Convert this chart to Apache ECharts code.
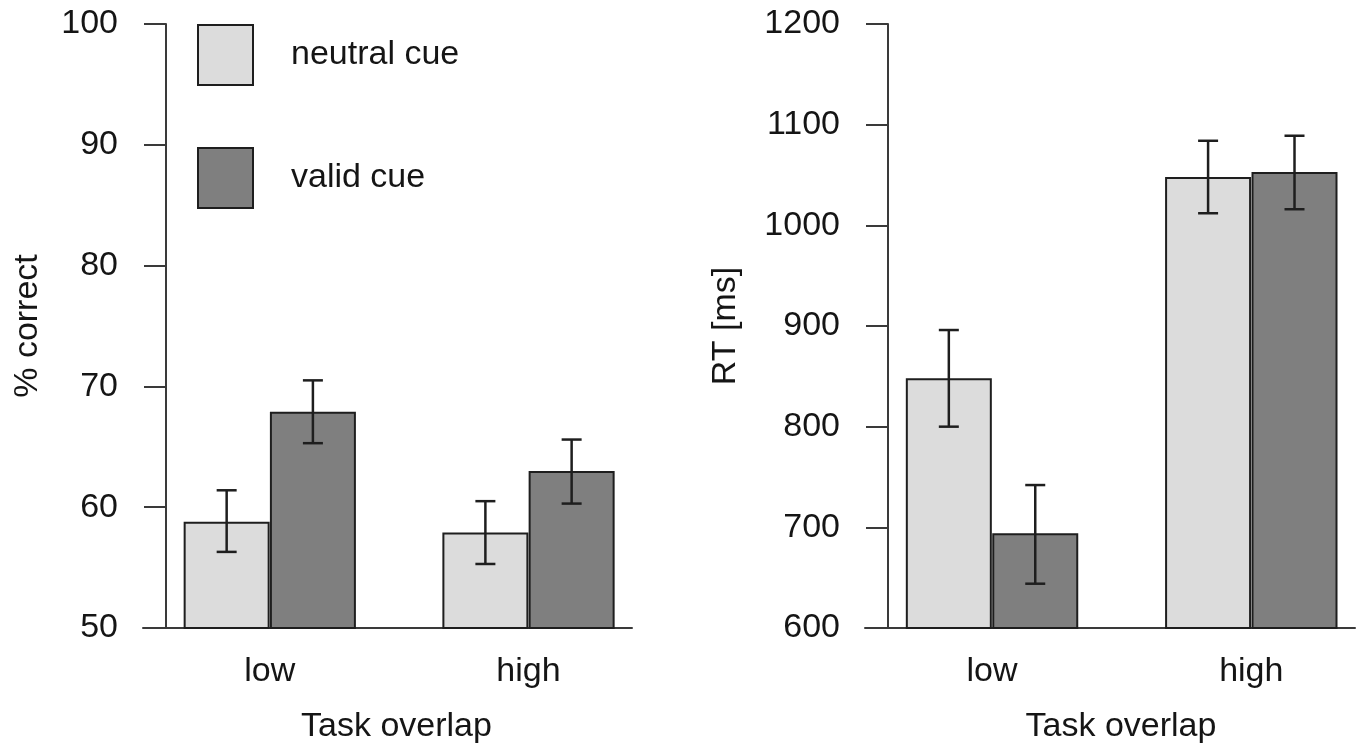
<!DOCTYPE html>
<html>
<head>
<meta charset="utf-8">
<script src="https://cdn.jsdelivr.net/npm/echarts@6/dist/echarts.min.js"></script>
<style>
html,body{margin:0;padding:0;background:#fff;}
#c{width:1361px;height:751px;}
</style>
</head>
<body>
<div id="c"></div>
<script>
// ---- data ----
const categories = ['low', 'high'];
const seriesNames = ['neutral cue', 'valid cue'];
// % correct
const neutralPct = [58.8, 57.9];
const validPct = [67.9, 63.0];
const neutralPctLo = [56.3, 55.3];
const neutralPctHi = [61.4, 60.5];
const validPctLo = [65.3, 60.3];
const validPctHi = [70.5, 65.6];
// RT [ms]
const neutralRT = [848, 1048];
const validRT = [694, 1053];
const neutralRTLo = [800, 1012];
const neutralRTHi = [896, 1084];
const validRTLo = [644, 1016];
const validRTHi = [742, 1089];

// ---- layout helpers ----
const FONT = 'Liberation Sans';
const FS = 34;
const TXT = '#151515';
const colors = ['#dcdcdc', '#7f7f7f'];
const dark = '#1e1e1e';
// bar positions in barplot units: groups centred at 2 and 5, bars at ±0.5
function pos(i, k) { return 2 + 3 * i + (k === 0 ? -0.5 : 0.5); }

function barData(vals, k) { return vals.map((v, i) => [pos(i, k), v]); }
function errData(lo, hi, k) { return lo.map((l, i) => [pos(i, k), l, hi[i]]); }

function errRender(params, api) {
  const x = api.value(0);
  const p1 = api.coord([x, api.value(1)]);
  const p2 = api.coord([x, api.value(2)]);
  const hw = 10;
  const st = { stroke: dark, lineWidth: 2.5 };
  return {
    type: 'group',
    children: [
      { type: 'line', shape: { x1: p1[0], y1: p1[1], x2: p2[0], y2: p2[1] }, style: st },
      { type: 'line', shape: { x1: p1[0] - hw, y1: p1[1], x2: p1[0] + hw, y2: p1[1] }, style: st },
      { type: 'line', shape: { x1: p2[0] - hw, y1: p2[1], x2: p2[0] + hw, y2: p2[1] }, style: st }
    ]
  };
}

function xAxisDef(gridIndex, namePad) {
  return {
    type: 'value', gridIndex: gridIndex, min: 0.53, max: 6.2,
    name: 'Task overlap', nameLocation: 'middle', nameGap: 82,
    nameTextStyle: { fontFamily: FONT, fontSize: FS, color: TXT, padding: namePad },
    axisLine: { show: true, lineStyle: { color: '#3a3a3a', width: 2 } },
    axisTick: { show: false },
    splitLine: { show: false },
    axisLabel: {
      customValues: [2, 5], margin: 27,
      fontFamily: FONT, fontSize: FS, color: TXT,
      formatter: v => categories[Math.round((v - 2) / 3)]
    }
  };
}
function yAxisDef(gridIndex, min, max, interval, name, nameGap) {
  return {
    type: 'value', gridIndex: gridIndex, min: min, max: max, interval: interval,
    offset: -23,
    name: name, nameLocation: 'middle', nameGap: nameGap, nameRotate: 90,
    nameTextStyle: { fontFamily: FONT, fontSize: FS, color: TXT },
    axisLine: { show: true, lineStyle: { color: '#3a3a3a', width: 2 } },
    axisTick: { show: true, length: 22, lineStyle: { color: '#3a3a3a', width: 2 } },
    splitLine: { show: false },
    axisLabel: { margin: 48, fontFamily: FONT, fontSize: FS, color: TXT, formatter: v => String(v) }
  };
}
function bars(name, vals, k, gi) {
  return {
    name: name, type: 'bar', xAxisIndex: gi, yAxisIndex: gi,
    data: barData(vals, k), barWidth: 86, barGap: '-100%',
    itemStyle: { color: colors[k], borderColor: dark, borderWidth: 2 },
    emphasis: { disabled: true }, z: 2
  };
}
function errs(name, lo, hi, k, gi) {
  return {
    name: name, type: 'custom', xAxisIndex: gi, yAxisIndex: gi,
    data: errData(lo, hi, k), renderItem: errRender,
    encode: { x: 0, y: [1, 2] }, z: 5, silent: true
  };
}

const chart = echarts.init(document.getElementById('c'), null, { renderer: 'canvas' });
chart.setOption({
  animation: false,
  backgroundColor: '#fff',
  textStyle: { fontFamily: FONT },
  grid: [
    { left: 143, top: 24, width: 489, height: 604 },
    { left: 865, top: 24, width: 490, height: 604 }
  ],
  legend: {
    data: seriesNames, orient: 'vertical', left: 197, top: 24, padding: 0,
    itemWidth: 55, itemHeight: 60, itemGap: 61, icon: 'rect',
    itemStyle: { borderColor: dark, borderWidth: 2 },
    textStyle: { fontFamily: FONT, fontSize: FS, color: TXT, padding: [0, 0, 0, 33] },
    selectedMode: false
  },
  xAxis: [xAxisDef(0, [0, 0, 0, 18]), xAxisDef(1, [0, 0, 0, 22])],
  yAxis: [
    yAxisDef(0, 50, 100, 10, '% correct', 121),
    yAxisDef(1, 600, 1200, 100, 'RT [ms]', 145)
  ],
  series: [
    bars(seriesNames[0], neutralPct, 0, 0),
    bars(seriesNames[1], validPct, 1, 0),
    errs(seriesNames[0], neutralPctLo, neutralPctHi, 0, 0),
    errs(seriesNames[1], validPctLo, validPctHi, 1, 0),
    bars(seriesNames[0], neutralRT, 0, 1),
    bars(seriesNames[1], validRT, 1, 1),
    errs(seriesNames[0], neutralRTLo, neutralRTHi, 0, 1),
    errs(seriesNames[1], validRTLo, validRTHi, 1, 1)
  ]
});
</script>
</body>
</html>
